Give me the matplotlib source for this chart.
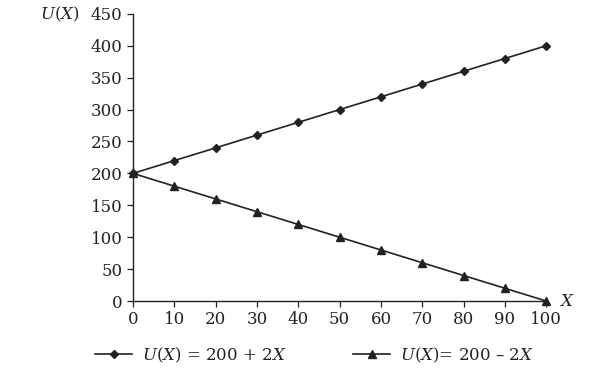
import matplotlib.pyplot as plt

# data
x_vals = [0, 10, 20, 30, 40, 50, 60, 70, 80, 90, 100]
u_plus = [200, 220, 240, 260, 280, 300, 320, 340, 360, 380, 400]
u_minus = [200, 180, 160, 140, 120, 100, 80, 60, 40, 20, 0]
x_ticks = [0, 10, 20, 30, 40, 50, 60, 70, 80, 90, 100]
y_ticks = [0, 50, 100, 150, 200, 250, 300, 350, 400, 450]

plt.rcParams['font.family'] = ['DejaVu Serif']
plt.rcParams['mathtext.fontset'] = 'dejavuserif'
ink = '#222222'

fig = plt.figure(figsize=(5.99, 3.84), dpi=100)
ax = fig.add_axes([0.222, 0.216, 0.69, 0.748])

ax.plot(x_vals, u_plus, color=ink, lw=1.2, marker='D', ms=4.5,
        label='$U(X)$ = 200 + 2$X$')
ax.plot(x_vals, u_minus, color=ink, lw=1.2, marker='^', ms=6,
        label='$U(X)$= 200 – 2$X$')

ax.set_xlim(0, 100)
ax.set_ylim(0, 450)
ax.set_xticks(x_ticks)
ax.set_yticks(y_ticks)
ax.spines['top'].set_visible(False)
ax.spines['right'].set_visible(False)
for s in ['left', 'bottom']:
    ax.spines[s].set_color(ink)
    ax.spines[s].set_linewidth(1.0)
ax.tick_params(colors=ink, labelsize=12, length=4, width=0.9)
for ln in ax.lines:
    ln.set_clip_on(False)

fig.text(0.066, 0.962, '$U(X)$', fontsize=12, color=ink, ha='left', va='center')
fig.text(0.933, 0.215, '$X$', fontsize=12, color=ink, ha='left', va='center')

fig.legend(loc='center', bbox_to_anchor=(0.525, 0.075), ncol=2, frameon=False,
           fontsize=12, handlelength=2.2, handletextpad=0.6,
           columnspacing=4.0, labelcolor=ink)

fig.savefig('out.png', dpi=100)
